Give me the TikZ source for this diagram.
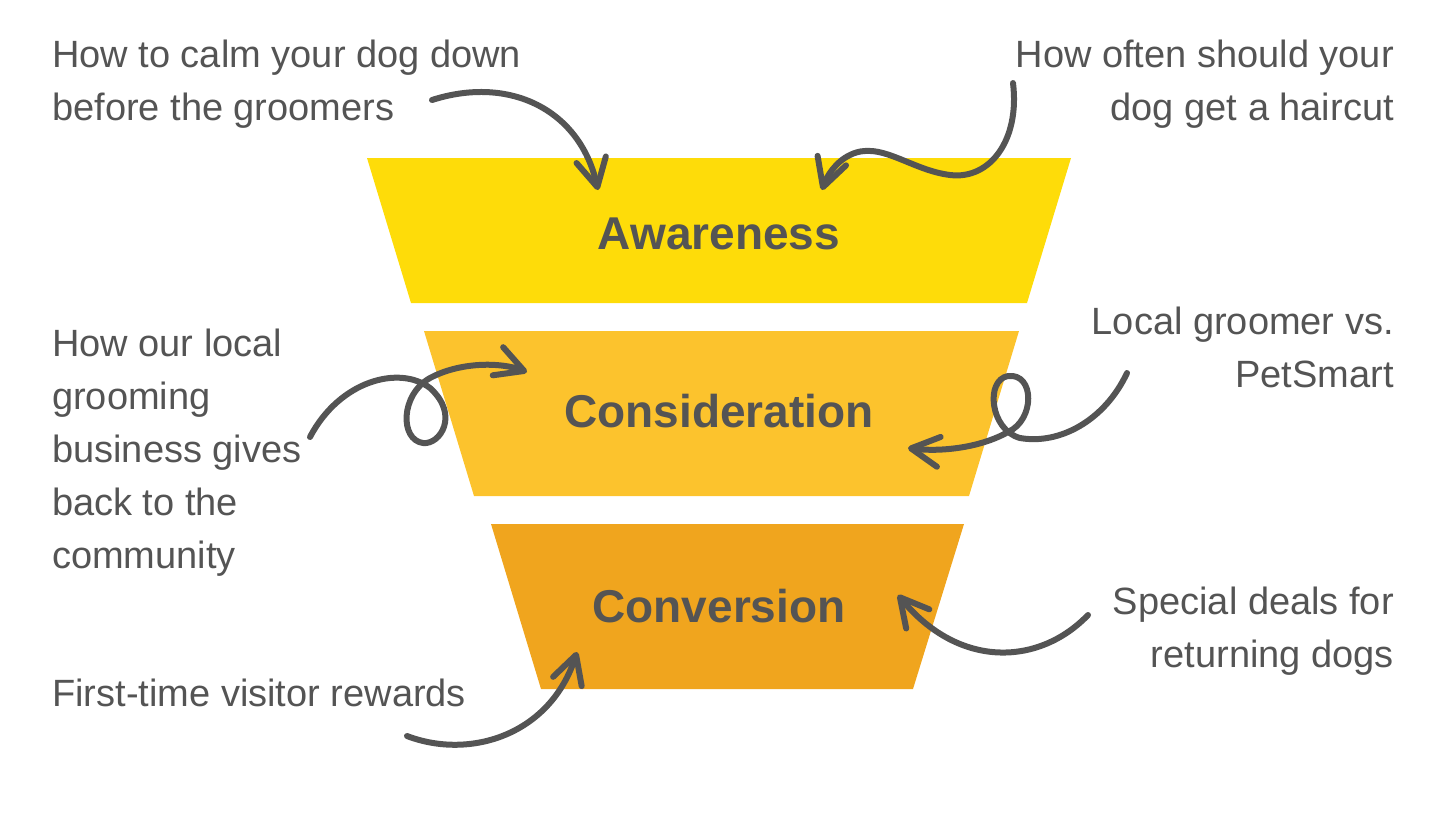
\documentclass[tikz,border=0pt]{standalone}
\usepackage{fontspec}
\setmainfont{Liberation Sans}
\usetikzlibrary{arrows.meta}
\definecolor{ink}{HTML}{545454}
\definecolor{fyellow}{HTML}{FEDC09}
\definecolor{fgold}{HTML}{FCC32D}
\definecolor{forange}{HTML}{F0A51E}
\tikzset{
  side/.style={inner sep=0pt, text=ink, font=\fontsize{38}{53}\selectfont},
  stage/.style={inner sep=0pt, text=ink, font=\fontsize{46}{55}\selectfont\bfseries},
  curl/.style={draw=ink, line width=6pt, line cap=round, line join=round,
    -{Straight Barb[length=28pt, width=30pt, round]}},
}
\begin{document}
\begin{tikzpicture}[x=1pt, y=-1pt]
\useasboundingbox (0,0) rectangle (1451,817);
% funnel
\fill[fyellow] (367,158) -- (1071,158) -- (1027,303) -- (411,303) -- cycle;
\fill[fgold] (424,331) -- (1019,331) -- (969,496) -- (474,496) -- cycle;
\fill[forange] (491,524) -- (964,524) -- (913,689) -- (541,689) -- cycle;
\node[stage, anchor=base] (aw) at (719,249) {Awareness};
\node[stage, anchor=base] (co) at (719,427) {Consideration};
\node[stage, anchor=base] (cv) at (719,622) {Conversion};
% side texts
\node[side, anchor=base west] (t1a) at (52,67) {How to calm your dog down};
\node[side, anchor=base west] (t1b) at (52,120) {before the groomers};
\node[side, anchor=base east] (t2a) at (1394,67) {How often should your};
\node[side, anchor=base east] (t2b) at (1394,120) {dog get a haircut};
\node[side, anchor=base west] (t3a) at (52,356) {How our local};
\node[side, anchor=base west] (t3b) at (52,409) {grooming};
\node[side, anchor=base west] (t3c) at (52,462) {business gives};
\node[side, anchor=base west] (t3d) at (52,515) {back to the};
\node[side, anchor=base west] (t3e) at (52,568) {community};
\node[side, anchor=base east] (t4a) at (1394,334) {Local groomer vs.};
\node[side, anchor=base east] (t4b) at (1394,387) {PetSmart};
\node[side, anchor=base east] (t5a) at (1394,614) {Special deals for};
\node[side, anchor=base east] (t5b) at (1394,667) {returning dogs};
\node[side, anchor=base west] (t6a) at (52,706) {First-time visitor rewards};
% arrow ends
\coordinate (a1s) at (432,100); \coordinate (a1e) at (598,190);
\coordinate (a2s) at (1013,83); \coordinate (a2e) at (822,190);
\coordinate (a3s) at (310,437); \coordinate (a3e) at (527,372);
\coordinate (a4s) at (1127,373); \coordinate (a4e) at (908,448);
\coordinate (a5s) at (407,736); \coordinate (a5e) at (577,652);
\coordinate (a6s) at (1088,615); \coordinate (a6e) at (898,595);
% arrows
\draw[curl] (a1s) .. controls (510,75) and (580,110) .. (a1e);
\draw[curl] (a2s) .. controls (1020,140) and (990,180) .. (950,175)
  .. controls (910,170) and (880,140) .. (850,155)
  .. controls (835,162) and (826,178) .. (a2e);
\draw[curl] (a3s) .. controls (340,380) and (400,365) .. (430,388)
  .. controls (460,415) and (440,445) .. (423,443)
  .. controls (400,440) and (400,395) .. (430,378)
  .. controls (460,362) and (500,362) .. (a3e);
\draw[curl] (a4s) .. controls (1105,420) and (1060,445) .. (1020,438)
  .. controls (990,430) and (985,380) .. (1008,376)
  .. controls (1035,373) and (1035,420) .. (1008,432)
  .. controls (980,448) and (940,452) .. (a4e);
\draw[curl] (a5s) .. controls (470,760) and (550,735) .. (a5e);
\draw[curl] (a6s) .. controls (1040,665) and (960,670) .. (a6e);
\end{tikzpicture}
\end{document}
